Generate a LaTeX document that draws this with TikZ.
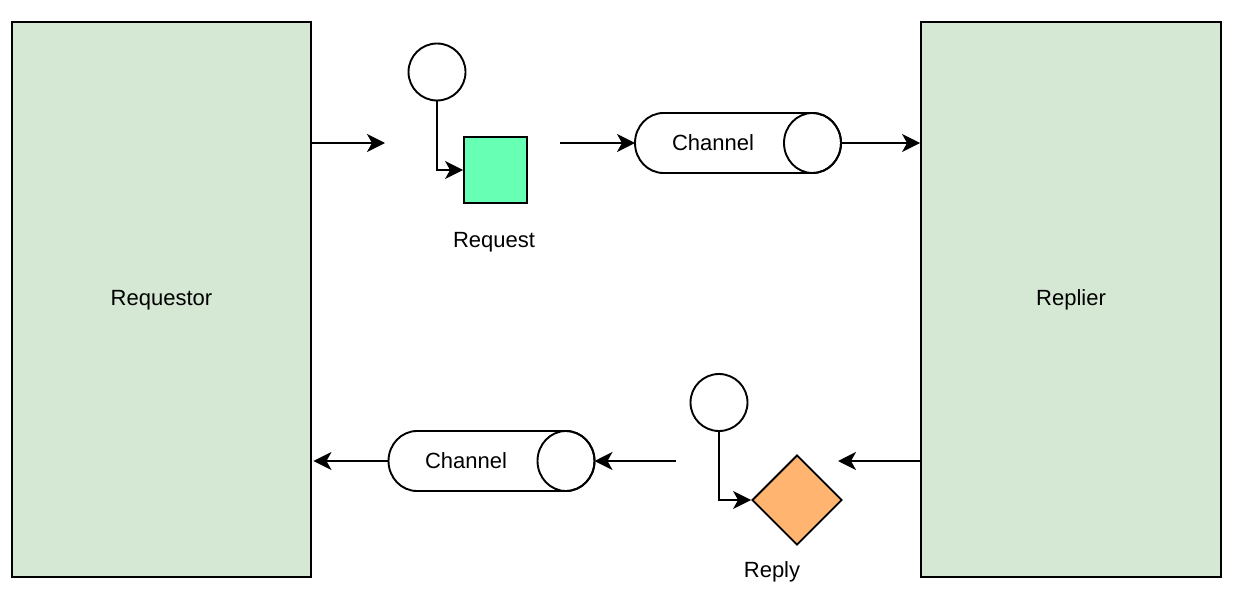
\documentclass[tikz,border=0pt]{standalone}
\usepackage{fontspec}
\setmainfont{Liberation Sans}
\usetikzlibrary{arrows.meta,shapes.geometric}
\definecolor{boxgreen}{HTML}{D5E8D4}
\definecolor{reqgreen}{HTML}{66FFB3}
\definecolor{replyorange}{HTML}{FFB570}
\tikzset{
  lw/.style={line width=1.9pt},
  actor/.style={draw=black, lw, fill=boxgreen, minimum width=299pt, minimum height=555pt, inner sep=0},
  conn/.style={lw, -{Stealth[length=18pt,width=18pt,inset=5pt]}},
  evt/.style={circle, draw=black, lw, fill=white, minimum size=57pt, inner sep=0},
  chanbox/.style={minimum width=206pt, minimum height=60pt, inner sep=0, outer sep=0},
  chanshape/.style={draw=black, lw, fill=white},
  lbl/.style={font=\fontsize{22}{26}\selectfont, inner sep=0}
}
\begin{document}
\begin{tikzpicture}[x=1pt,y=-1pt]
\useasboundingbox (0,0) rectangle (1234,602);

% actors
\node[actor] (L) at (161.5,299.5) {};
\node[actor, minimum width=300pt] (R) at (1071,299.5) {};
\node[lbl] (Lt) at (161.5,300) {Requestor};
\node[lbl] (Rt) at (1071,300) {Replier};

% request part
\node[evt] (o1) at (437,72) {};
\node[draw=black, lw, fill=reqgreen, minimum width=63pt, minimum height=66pt, inner sep=0] (sq) at (495.5,170) {};
\node[lbl] (sqt) at (494,242) {Request};

% channel 1
\node[chanbox] (c1) at (738,143) {};
\draw[chanshape] ([xshift=-28.5]c1.north east) -- ([xshift=28.5]c1.north west)
  arc[start angle=90,end angle=270,x radius=28.5pt,y radius=30pt]
  -- ([xshift=-28.5]c1.south east)
  arc[start angle=-90,end angle=90,x radius=28.5pt,y radius=30pt] -- cycle;
\draw[lw] ([xshift=-28.5]c1.east) ellipse[x radius=28.5pt,y radius=30pt];
\node[lbl] (c1t) at (713,143) {Channel};

% reply part
\node[evt] (o2) at (719,402.5) {};
\node[diamond, draw=black, lw, fill=replyorange, minimum width=90pt, minimum height=90pt, inner sep=0] (dm) at (797,500) {};
\node[lbl] (dmt) at (772,572) {Reply};

% channel 2
\node[chanbox] (c2) at (491.5,461) {};
\draw[chanshape] ([xshift=-28.5]c2.north east) -- ([xshift=28.5]c2.north west)
  arc[start angle=90,end angle=270,x radius=28.5pt,y radius=30pt]
  -- ([xshift=-28.5]c2.south east)
  arc[start angle=-90,end angle=90,x radius=28.5pt,y radius=30pt] -- cycle;
\draw[lw] ([xshift=-28.5]c2.east) ellipse[x radius=28.5pt,y radius=30pt];
\node[lbl] (c2t) at (466,461) {Channel};

% coordinates for free ends
\coordinate (a1e) at (385,143);
\coordinate (a2s) at (560,143);
\coordinate (b1e) at (838,461);
\coordinate (b2s) at (676,461);

% connectors
\draw[conn] (L.east |- a1e) -- (a1e);
\draw[conn] (o1.south) |- (sq.west);
\draw[conn] (a2s) -- (c1.west);
\draw[conn] (c1.east) -- (c1.east -| R.west);
\draw[conn] (R.west |- b1e) -- (b1e);
\draw[conn] (o2.south) |- (dm.west);
\draw[conn] (b2s) -- (c2.east);
\draw[conn] (c2.west) -- ([xshift=1.5]c2.west -| L.east);
\end{tikzpicture}
\end{document}
